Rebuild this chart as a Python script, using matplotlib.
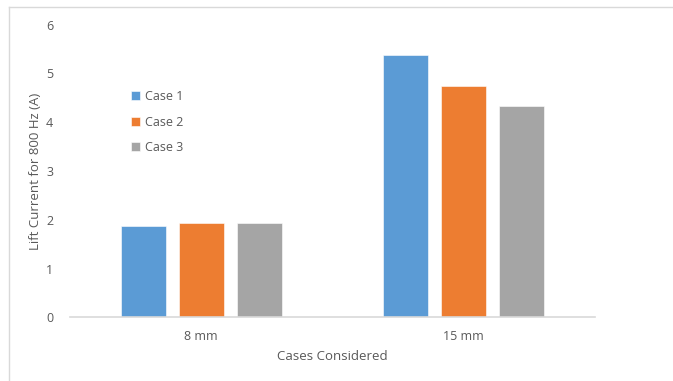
import matplotlib
matplotlib.use("Agg")
import matplotlib.pyplot as plt
import numpy as np
from matplotlib.lines import Line2D

plt.rcParams['font.family'] = ['Open Sans', 'DejaVu Sans']

categories = ["8 mm", "15 mm"]
series_names = ["Case 1", "Case 2", "Case 3"]
case1 = [1.88, 5.37]
case2 = [1.94, 4.75]
case3 = [1.93, 4.34]
colors = ["#5B9BD5", "#ED7D31", "#A5A5A5"]
yticks = [0, 1, 2, 3, 4, 5, 6]

fig = plt.figure(figsize=(6.73, 3.81), dpi=100)
ax = fig.add_axes([70/673, 1-317.3/381, (595-70)/673, (317.3-24.7)/381])

x = np.arange(len(categories))
width = 0.172
offsets = [-0.221, 0, 0.221]
for vals, name, c, off in zip([case1, case2, case3], series_names, colors, offsets):
    ax.bar(x + off, vals, width, color=c, label=name, edgecolor='white', linewidth=0.4)

ax.set_xlim(-0.5, 1.5)
ax.set_ylim(0, 6)
ax.set_yticks(yticks)
ax.set_xticks(x)
ax.set_xticklabels(categories)
for s in ['top', 'right', 'left']:
    ax.spines[s].set_visible(False)
ax.spines['bottom'].set_color('#D9D9D9')
ax.spines['bottom'].set_linewidth(1.2)
ax.tick_params(axis='both', length=0, colors='#595959', labelsize=9)
ax.tick_params(axis='y', pad=12)
ax.tick_params(axis='x', pad=9)
ax.set_ylabel("Lift Current for 800 Hz (A)", color='#595959', fontsize=9.5, labelpad=3)
ax.set_xlabel("Cases Considered", color='#595959', fontsize=9.5, labelpad=5)

leg = ax.legend(loc='upper left', bbox_to_anchor=(0.095, 0.815), frameon=False,
                fontsize=9, labelspacing=1.0, handlelength=0.7, handleheight=0.7,
                handletextpad=0.4, labelcolor='#595959')

# figure border (cropped; top and left visible)
fig.add_artist(Line2D([9/673, 9/673], [0, 1-7/381], transform=fig.transFigure,
                      color='#D9D9D9', linewidth=1))
fig.add_artist(Line2D([9/673, 1], [1-7/381, 1-7/381], transform=fig.transFigure,
                      color='#D9D9D9', linewidth=1))

fig.savefig("out.png", dpi=100)
